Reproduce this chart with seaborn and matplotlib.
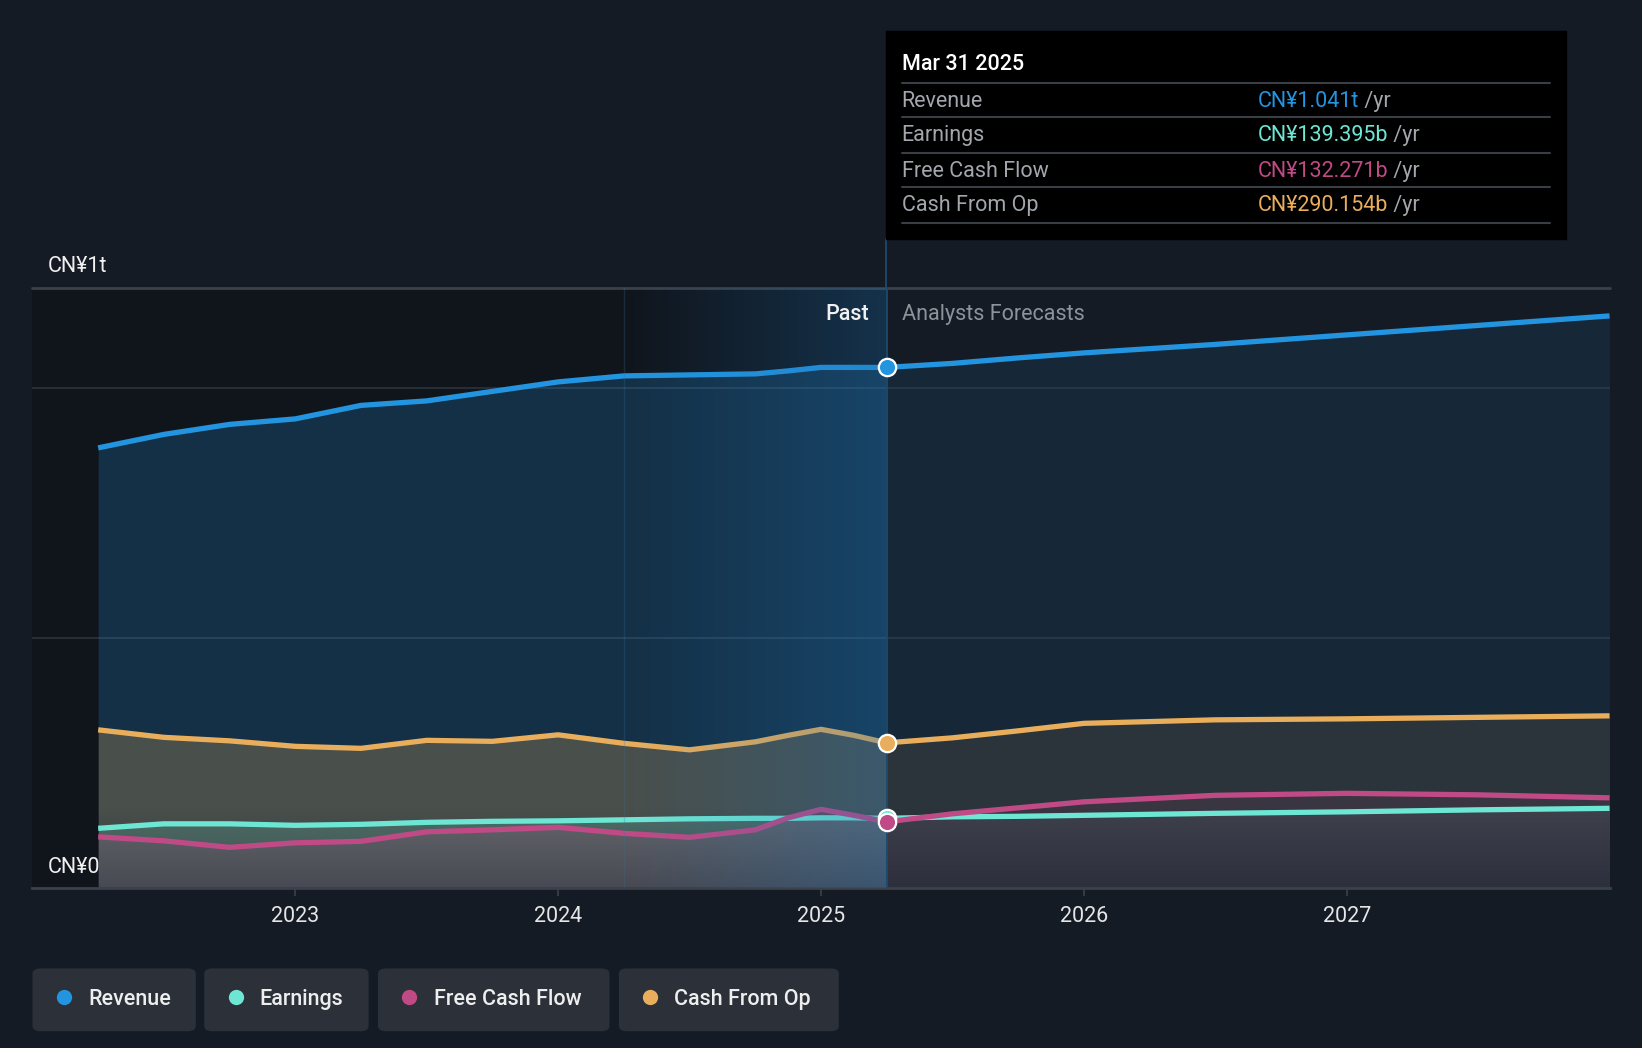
import numpy as np
import pandas as pd
import matplotlib
matplotlib.use("Agg")
import matplotlib.pyplot as plt
from matplotlib.patches import FancyBboxPatch, Rectangle
import seaborn as sns

# ── Data (values in CN¥ billions, x as decimal year) ─────────────────────────
past_years = [2022.25, 2022.5, 2022.75, 2023.0, 2023.25, 2023.5, 2023.75, 2024.0,
              2024.25, 2024.5, 2024.75, 2024.875, 2025.0, 2025.125, 2025.25]
revenue_past = [880, 907, 927, 938, 965, 974, 993, 1012, 1024, 1026, 1028, 1034, 1041, 1041, 1041]
earnings_past = [119, 128, 128, 125, 127, 131, 133, 134, 136, 138, 139, 139, 140, 140, 139]
fcf_past = [102, 94, 81, 90, 93, 112, 116, 121, 109, 101, 116, 140, 157, 145, 132]
cfo_past = [316, 301, 294, 283, 279, 295, 293, 306, 289, 276, 292, 305, 317, 305, 290]

fc_years = [2025.25, 2025.5, 2025.75, 2026.0, 2026.5, 2027.0, 2027.5, 2028.0]
revenue_fc = [1041, 1049, 1060, 1070, 1087, 1106, 1125, 1144]
earnings_fc = [139, 142, 143, 145, 149, 152, 156, 159]
fcf_fc = [132, 148, 160, 172, 185, 189, 186, 180]
cfo_fc = [290, 300, 314, 329, 336, 338, 341, 344]

series_names = ["Revenue", "Earnings", "Free Cash Flow", "Cash From Op"]
series_colors = ["#2394df", "#6ee6d4", "#c04a86", "#e9ae5b"]
tooltip_values = ["CN¥1.041t", "CN¥139.395b", "CN¥132.271b", "CN¥290.154b"]
year_ticks = [2023, 2024, 2025, 2026, 2027]
now_year = 2025.25
highlight_start = 2024.25

BG = "#151b24"
W, H = 1568, 1001  # layout reference grid
FS = 15.5
DY = 2.5  # text baseline nudge


def fx(px):
    return px / W


def fy(py):
    return 1 - py / H


def ty(py):
    return fy(py + DY)


sns.set_theme(style="dark", rc={"figure.facecolor": BG, "axes.facecolor": BG})
plt.rcParams["font.family"] = ["Roboto", "DejaVu Sans"]

fig = plt.figure(figsize=(16.42, 10.48), dpi=100)
ax = fig.add_axes([fx(31), fy(848), fx(1537 - 31), (848 - 275) / H])
ax.set_xlim(2022.0, 2028.0)
ax.set_ylim(0, 1200)

past = pd.DataFrame({"year": past_years, "Revenue": revenue_past, "Earnings": earnings_past,
                     "Free Cash Flow": fcf_past, "Cash From Op": cfo_past})
fc = pd.DataFrame({"year": fc_years, "Revenue": revenue_fc, "Earnings": earnings_fc,
                   "Free Cash Flow": fcf_fc, "Cash From Op": cfo_fc})

# darker past background
ax.add_patch(Rectangle((2022.0, 0), now_year - 2022.0, 1200, color="#000000", alpha=0.2,
                       lw=0, zorder=0))

# area fills
fill_order = ["Revenue", "Cash From Op", "Earnings", "Free Cash Flow"]
fill_alpha_past = {"Revenue": 0.22, "Cash From Op": 0.25, "Earnings": 0.2, "Free Cash Flow": 0.18}
fill_alpha_fc = {"Revenue": 0.1, "Cash From Op": 0.1, "Earnings": 0.08, "Free Cash Flow": 0.1}
for name in fill_order:
    c = series_colors[series_names.index(name)]
    ax.fill_between(past["year"], 0, past[name], color=c, alpha=fill_alpha_past[name], lw=0, zorder=1)
    ax.fill_between(fc["year"], 0, fc[name], color=c, alpha=fill_alpha_fc[name], lw=0, zorder=1)

# darker shade towards the baseline
grad = np.zeros((256, 2, 4))
grad[..., 2] = 0.08
grad[..., 3] = np.linspace(0.28, 0.0, 256)[:, None]
ax.imshow(grad, extent=[2022.25, 2028.0, 0, 160], origin="lower", aspect="auto", zorder=1.5,
          interpolation="bilinear")

# grid lines
for yv in [500, 1000]:
    ax.axhline(yv, color="#2b323c", lw=1.2, zorder=0.5)
ax.axhline(1200, color="#3b4049", lw=2, zorder=0.5, clip_on=False)

# lines
both = pd.concat([past, fc.iloc[1:]])
for name in fill_order:
    c = series_colors[series_names.index(name)]
    sns.lineplot(data=both, x="year", y=name, color=c, lw=3.8, ax=ax, zorder=3,
                 solid_capstyle="butt", estimator=None)

# last-year highlight gradient (over the lines)
hl = np.zeros((2, 256, 4))
hl[..., 0] = 0.12
hl[..., 1] = 0.44
hl[..., 2] = 0.70
hl[..., 3] = np.linspace(0.0, 0.32, 256)[None, :]
ax.imshow(hl, extent=[highlight_start, now_year, 0, 1200], origin="lower", aspect="auto",
          zorder=4, interpolation="bilinear")
ax.axvline(highlight_start, color="#3a6e98", alpha=0.25, lw=1, zorder=4)
ax.axvline(now_year, color="#1c4a6e", lw=1.3, zorder=4)

# markers at the present
for name in fill_order:
    c = series_colors[series_names.index(name)]
    val = past[name].iloc[-1]
    ax.plot([now_year], [val], "o", ms=12.5, mfc=c, mec="white", mew=1.6, zorder=6)

ax.set_xlabel("")
ax.set_ylabel("")
ax.set_yticks([])
ax.set_xticks(year_ticks)
ax.set_xticklabels([str(y) for y in year_ticks], color="#e6e6e6", fontsize=FS)
ax.tick_params(axis="x", length=5.5, width=1.2, color="#3b4049", pad=7.5, bottom=True)
for s in ["top", "right", "left"]:
    ax.spines[s].set_visible(False)
ax.spines["bottom"].set_color("#3b4049")
ax.spines["bottom"].set_linewidth(2)
ax.grid(False)

# connector line from tooltip to chart top
fig.add_artist(plt.Line2D([fx(846.5), fx(846.5)], [fy(228), fy(275)], color="#1c4a6e", lw=1.3))

# y labels and past/forecast labels
fig.text(fx(46), ty(252), "CN¥1t", color="#f0f0f0", fontsize=FS, va="center")
fig.text(fx(46), ty(826), "CN¥0", color="#f0f0f0", fontsize=FS, va="center")
fig.text(fx(830), ty(298), "Past", color="#f0f0f0", fontsize=FS, va="center", ha="right",
         fontweight="medium")
fig.text(fx(861), ty(298), "Analysts Forecasts", color="#8e939a", fontsize=FS, va="center")

# tooltip
fig.add_artist(Rectangle((fx(846), fy(228)), fx(1495 - 846), (228 - 30) / H, color="#000000",
                         transform=fig.transFigure, zorder=5))
fig.text(fx(861), ty(59), "Mar 31 2025", color="white", fontsize=FS, va="center",
         fontweight="medium", zorder=6)
for sy in [79, 112, 146, 179, 213]:
    fig.add_artist(plt.Line2D([fx(861), fx(1480)], [fy(sy), fy(sy)], color="#3a3f46", lw=1.5,
                              zorder=6))
row_y = [94, 127, 161, 194]
for name, c, v, ry in zip(series_names, series_colors, tooltip_values, row_y):
    fig.text(fx(861), ty(ry), name, color="#a3a7ad", fontsize=FS, va="center", zorder=6)
    t = fig.text(fx(1201), ty(ry), v, color=c, fontsize=FS, va="center", zorder=6)
    fig.add_artist(matplotlib.text.Annotation(" /yr", xy=(1, 0), xycoords=t, va="bottom",
                                              color="#a3a7ad", fontsize=FS, zorder=6))

# legend chips
chips = [(31, 187), (195, 352), (361, 582), (591, 801)]
for (x0, x1), name, c in zip(chips, series_names, series_colors):
    fig.add_artist(FancyBboxPatch((fx(x0), fy(985)), fx(x1 - x0), 60 / H,
                                  boxstyle="round,pad=0,rounding_size=0.005",
                                  transform=fig.transFigure, fc="#2b3039", ec="none"))
    fig.add_artist(plt.Line2D([fx(x0 + 30)], [fy(952)], marker="o", ms=11, mfc=c, mec="none"))
    fig.text(fx(x0 + 53), ty(952), name, color="#eeeeee", fontsize=FS, va="center",
             fontweight="medium")

fig.savefig("out.png", dpi=100, facecolor=BG)
